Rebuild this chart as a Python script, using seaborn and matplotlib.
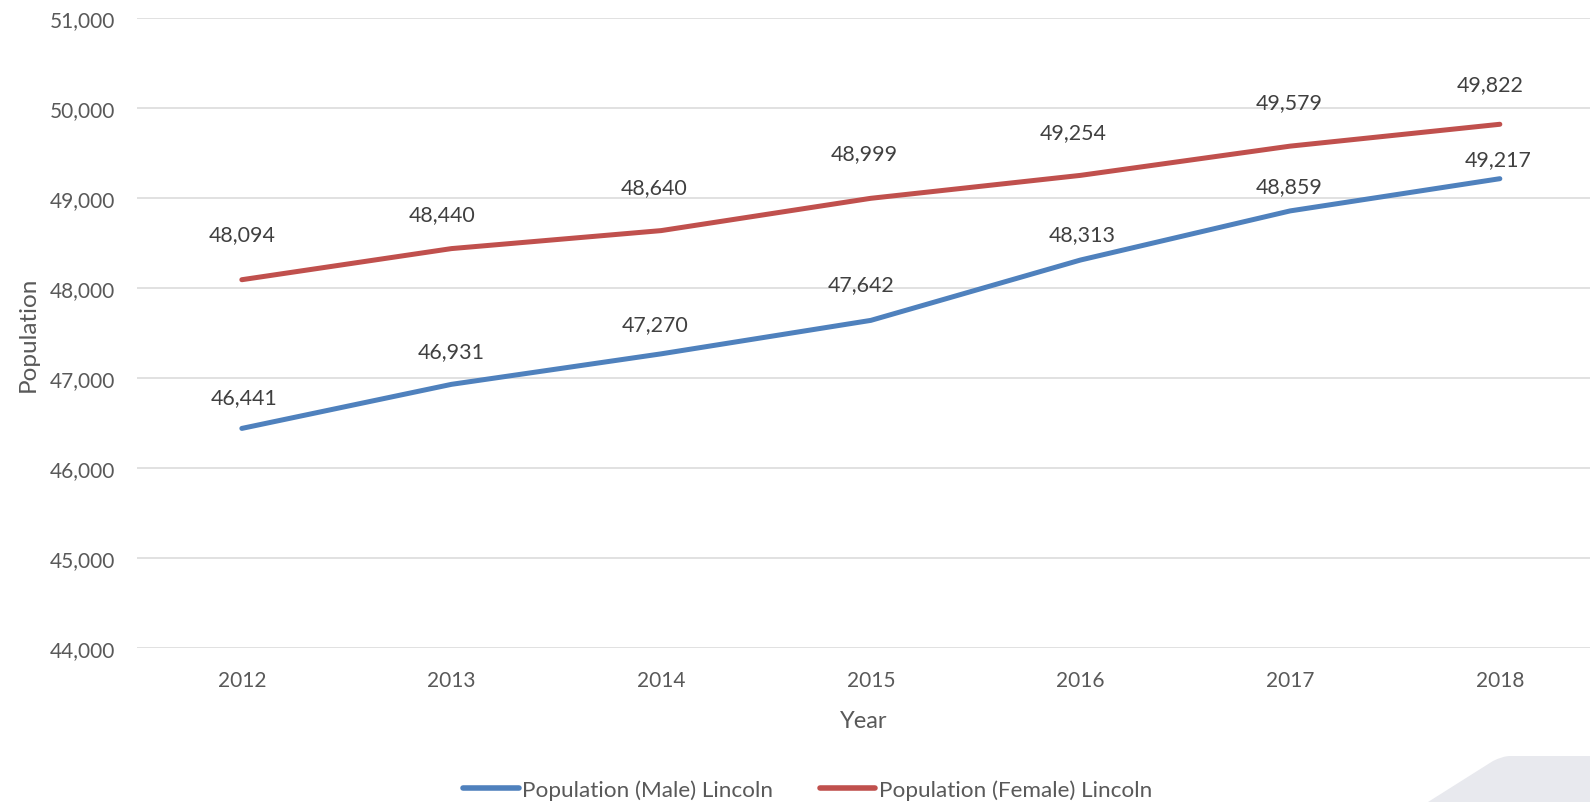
import matplotlib
matplotlib.use("Agg")
import matplotlib.pyplot as plt
import matplotlib.patches as mpatches
from matplotlib.path import Path
import seaborn as sns
import pandas as pd

years = [2012, 2013, 2014, 2015, 2016, 2017, 2018]
male = [46441, 46931, 47270, 47642, 48313, 48859, 49217]
female = [48094, 48440, 48640, 48999, 49254, 49579, 49822]
series_names = ["Population (Male) Lincoln", "Population (Female) Lincoln"]
y_ticks = [44000, 45000, 46000, 47000, 48000, 49000, 50000, 51000]

# label offsets (pixels) for the data labels
male_dx = [2, 0, -6, -10, 2, -1, -2]
male_dy = [31, 33, 30, 36, 26, 25, 20]
female_dx = [0, -9, -7, -7, -7, -1, -10]
female_dy = [46, 34, 44, 45, 43, 44, 40]

colors = {series_names[0]: "#4F81BD", series_names[1]: "#C0504D"}

df = pd.DataFrame({
    "Year": years * 2,
    "Population": male + female,
    "Series": [series_names[0]] * len(years) + [series_names[1]] * len(years),
})

sns.set_theme(style="white")
plt.rcParams["font.family"] = ["Lato", "DejaVu Sans"]

W, H = 1590, 803
fig = plt.figure(figsize=(W / 100, H / 100), dpi=100)
ax = fig.add_axes([137 / W, 1 - 649 / H, 1 - 137 / W, (649 - 19.3) / H])

# decorative corner shape
verts = [(1428 / W, 0), (1493 / W, 1 - 762 / H), (1503 / W, 1 - 757 / H), (1510 / W, 1 - 757 / H), (1.0, 1 - 757 / H), (1.0, 0), (1428 / W, 0)]
codes = [Path.MOVETO, Path.LINETO, Path.CURVE3, Path.CURVE3, Path.LINETO, Path.LINETO, Path.CLOSEPOLY]
fig.patches.append(mpatches.PathPatch(Path(verts, codes), transform=fig.transFigure,
                                      facecolor="#E8E9EE", edgecolor="none", zorder=0))

sns.lineplot(data=df, x="Year", y="Population", hue="Series", palette=colors,
             linewidth=3.6, ax=ax, legend=False, sort=False)
for line in ax.lines:
    line.set_solid_capstyle("round")
    line.set_solid_joinstyle("round")

ax.set_xlim(2011.5, 2018.43)
ax.set_ylim(44000, 51000)
ax.set_yticks(y_ticks)
ax.set_yticklabels([f"{v:,}" for v in y_ticks])
ax.set_xticks(years)
ax.set_xticklabels([str(y) for y in years])
ax.grid(axis="y", color="#D9D9D9", linewidth=1.1)
ax.grid(axis="x", visible=False)
ax.set_axisbelow(True)
for s in ax.spines.values():
    s.set_visible(False)
ax.tick_params(axis="y", length=0, pad=16, labelsize=15, labelcolor="#595959")
ax.tick_params(axis="x", length=0, pad=16, labelsize=15, labelcolor="#595959")
ax.set_xlabel("Year", fontsize=17, color="#595959", labelpad=14)
ax.set_ylabel("Population", fontsize=17.5, color="#595959", labelpad=8)

for vals, dxs, dys in ((female, female_dx, female_dy), (male, male_dx, male_dy)):
    for x, v, dx, dy in zip(years, vals, dxs, dys):
        ax.annotate(f"{v:,}", xy=(x, v), xytext=(dx, dy), textcoords="offset pixels",
                    ha="center", va="center", fontsize=15.4, color="#404040")

handles = [plt.Line2D([], [], color=colors[n], linewidth=4, solid_capstyle="round") for n in series_names]
fig.legend(handles, series_names, loc="center", bbox_to_anchor=(0.508, 1 - 791 / H), ncol=2,
           frameon=False, fontsize=16.2, labelcolor="#595959", handlelength=2.45,
           handletextpad=0.15, columnspacing=2.1)

fig.savefig("out.png", dpi=100)
